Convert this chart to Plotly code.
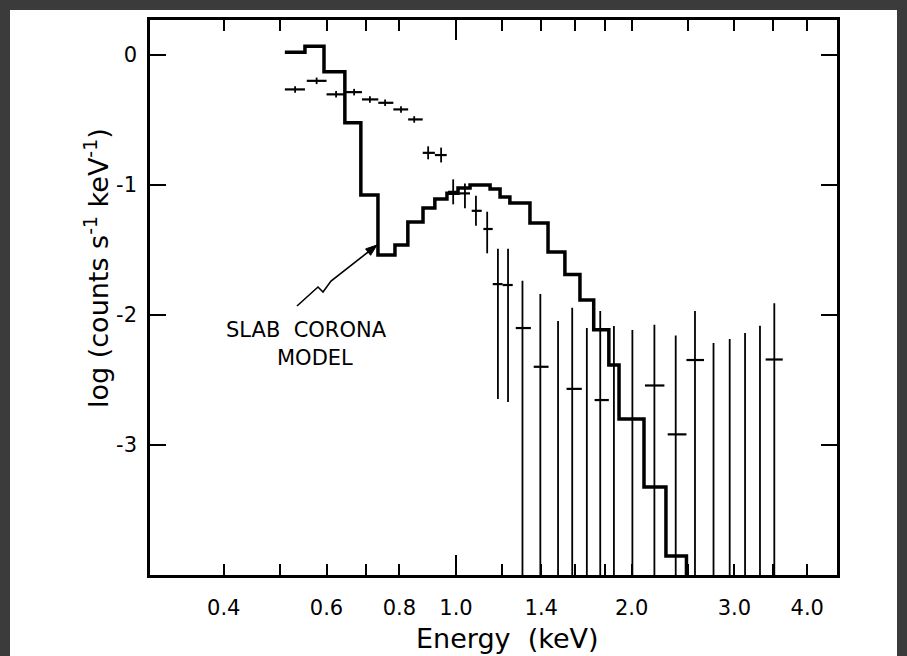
import plotly.graph_objects as go

# ---------------- data ----------------
# slab corona model: histogram bin edges (keV) and log counts per bin
model_edges = [0.509, 0.551, 0.594, 0.645, 0.687, 0.735, 0.786, 0.827, 0.878, 0.920,
               0.965, 1.008, 1.057, 1.144, 1.190, 1.237, 1.339, 1.438, 1.537, 1.631,
               1.722, 1.828, 1.903, 2.100, 2.290, 2.483, 2.570]
model_vals = [0.021, 0.069, -0.128, -0.521, -1.077, -1.538, -1.462, -1.285, -1.177,
              -1.108, -1.062, -1.023, -1.000, -1.031, -1.092, -1.138, -1.292, -1.515,
              -1.688, -1.885, -2.113, -2.385, -2.800, -3.322, -3.854, -4.400]

# observed spectrum: channel centre, channel extent, value, error bar top/bottom
obs_e = [0.530, 0.577, 0.623, 0.669, 0.712, 0.756, 0.805, 0.848, 0.896, 0.943,
         0.989, 1.036, 1.082, 1.131, 1.180, 1.228, 1.300, 1.395, 1.496, 1.582,
         1.676, 1.767, 1.865, 2.006, 2.188, 2.380, 2.568, 2.763, 2.945, 3.129,
         3.319, 3.512]
obs_lo = [0.509, 0.555, 0.600, 0.645, 0.690, 0.736, 0.781, 0.828, 0.877, 0.920,
          0.969, 1.013, 1.064, 1.114, 1.156, 1.202, 1.266, 1.359, None, 1.547,
          None, 1.728, None, None, 2.108, 2.306, 2.483, None, None, None,
          None, 3.394]
obs_hi = [0.551, 0.600, 0.645, 0.690, 0.736, 0.781, 0.828, 0.877, 0.920, 0.964,
          1.008, 1.057, 1.107, 1.156, 1.202, 1.251, 1.344, 1.441, None, 1.643,
          None, 1.828, None, None, 2.276, 2.483, 2.661, None, None, None,
          None, 3.631]
obs_val = [-0.264, -0.198, -0.302, -0.285, -0.341, -0.367, -0.418, -0.495, -0.752, -0.769,
           -1.052, -1.064, -1.198, -1.338, -1.762, -1.769, -2.100, -2.398, None, -2.568,
           None, -2.654, None, None, -2.542, -2.918, -2.346, None, None, None,
           None, -2.342]
obs_top = [-0.239, -0.173, -0.277, -0.260, -0.316, -0.342, -0.393, -0.470, -0.702, -0.712,
           -0.956, -0.987, -1.083, -1.205, -1.489, -1.489, -1.736, -1.838, -2.046, -1.944,
           -2.100, -1.969, -2.085, -2.115, -2.074, -2.157, -1.969, -2.215, -2.185, -2.138,
           -2.082, -1.910]
obs_bot = [-0.289, -0.223, -0.327, -0.310, -0.366, -0.392, -0.443, -0.520, -0.802, -0.826,
           -1.148, -1.179, -1.313, -1.525, -2.646, -2.669, None, None, None, None,
           None, None, None, None, None, None, None, None, None, None,
           None, None]

x_tick_vals = [0.4, 0.6, 0.8, 1.0, 1.4, 2.0, 3.0, 4.0]
x_tick_text = ["0.4", "0.6", "0.8", "1.0", "1.4", "2.0", "3.0", "4.0"]
x_minor_vals = [0.5, 0.7, 1.2, 1.6, 1.8, 2.5, 3.5]
y_tick_vals = [0, -1, -2, -3]
y_tick_text = ["0", "-1", "-2", "-3"]

X_RANGE = [-0.5244, 0.653]
Y_RANGE = [-4.0, 0.27]

FONT = "DejaVu Sans"

# ---------------- traces ----------------
model_y = model_vals + [model_vals[-1]]

vx, vy = [], []
for e, t, b in zip(obs_e, obs_top, obs_bot):
    vx += [e, e, None]
    vy += [t, b if b is not None else Y_RANGE[0] - 1.0, None]

hx, hy = [], []
for lo, hi, v in zip(obs_lo, obs_hi, obs_val):
    if v is None:
        continue
    hx += [lo, hi, None]
    hy += [v, v, None]

fig = go.Figure()
fig.add_trace(go.Scatter(x=model_edges, y=model_y, mode="lines", line_shape="hv",
                         line=dict(color="black", width=3.5), hoverinfo="skip",
                         showlegend=False))
fig.add_trace(go.Scatter(x=vx, y=vy, mode="lines", line=dict(color="black", width=1.8),
                         hoverinfo="skip", showlegend=False))
fig.add_trace(go.Scatter(x=hx, y=hy, mode="lines", line=dict(color="black", width=2.2),
                         hoverinfo="skip", showlegend=False))

# ---------------- layout ----------------
W, H = 907, 656
ML, MR, MT, MB = 150, 70, 20, 81
PW, PH = W - ML - MR, H - MT - MB


def px(x):
    return (x - ML) / PW


def py(y):
    return (H - MB - y) / PH


def path(points, close=False):
    s = " ".join(("M" if i == 0 else "L") + f" {px(a):.5f},{py(b):.5f}"
                 for i, (a, b) in enumerate(points))
    return s + (" Z" if close else "")


# wiggly pointer from the label to the model curve
arrow_pts = [(297, 306), (318, 287), (323, 292), (331, 281), (372, 249)]
head_pts = [(377, 245), (370.6, 255.3), (365.6, 248.9)]

fig.update_layout(
    width=W, height=H,
    margin=dict(l=ML, r=MR, t=MT, b=MB, pad=0),
    paper_bgcolor="#3b3b3b",
    plot_bgcolor="white",
    showlegend=False,
    font=dict(family=FONT, color="black"),
    xaxis=dict(type="log", range=X_RANGE, tickmode="array", tickvals=x_tick_vals,
               ticktext=x_tick_text, ticks="inside", ticklen=11, tickwidth=2,
               tickcolor="black", showline=True, linewidth=2.5, linecolor="black",
               mirror="ticks", showgrid=False, zeroline=False,
               minor=dict(tickmode="array", tickvals=x_minor_vals, ticks="inside",
                          ticklen=11, tickwidth=2, tickcolor="black", showgrid=False),
               tickfont=dict(family=FONT, size=21, color="black"),
               ticklabelstandoff=12),
    yaxis=dict(range=Y_RANGE, tickmode="array", tickvals=y_tick_vals,
               ticktext=y_tick_text, ticks="inside", ticklen=16, tickwidth=2,
               tickcolor="black", showline=True, linewidth=2.5, linecolor="black",
               mirror="ticks", showgrid=False, zeroline=False,
               tickfont=dict(family=FONT, size=21, color="black"),
               ticklabelstandoff=6),
    shapes=[
        dict(type="rect", xref="paper", yref="paper", x0=px(10), x1=px(897),
             y0=py(H + 5), y1=py(10), fillcolor="white", line=dict(width=0),
             layer="below"),
        dict(type="line", xref="x", yref="paper", x0=1.0, x1=1.0, y0=0, y1=20 / PH,
             line=dict(color="black", width=2)),
        dict(type="line", xref="x", yref="paper", x0=1.0, x1=1.0, y0=1, y1=1 - 20 / PH,
             line=dict(color="black", width=2)),
        dict(type="path", xref="paper", yref="paper", path=path(arrow_pts),
             line=dict(color="black", width=1.6)),
        dict(type="path", xref="paper", yref="paper", path=path(head_pts, close=True),
             fillcolor="black", line=dict(color="black", width=1)),
    ],
    annotations=[
        dict(text="Energy  (keV)", xref="paper", yref="paper", x=px(507), y=py(638),
             xanchor="center", yanchor="middle", showarrow=False,
             font=dict(family=FONT, size=27, color="black")),
        dict(text="log (counts s<sup>-1</sup> keV<sup>-1</sup>)", xref="paper",
             yref="paper", x=px(96), y=py(268), xanchor="center", yanchor="middle",
             textangle=-90, showarrow=False,
             font=dict(family=FONT, size=27, color="black")),
        dict(text="SLAB  CORONA", xref="paper", yref="paper", x=px(306), y=py(330),
             xanchor="center", yanchor="middle", showarrow=False,
             font=dict(family=FONT, size=21, color="black")),
        dict(text="MODEL", xref="paper", yref="paper", x=px(315), y=py(358),
             xanchor="center", yanchor="middle", showarrow=False,
             font=dict(family=FONT, size=21, color="black")),
    ],
)

fig.write_html("out.html")
